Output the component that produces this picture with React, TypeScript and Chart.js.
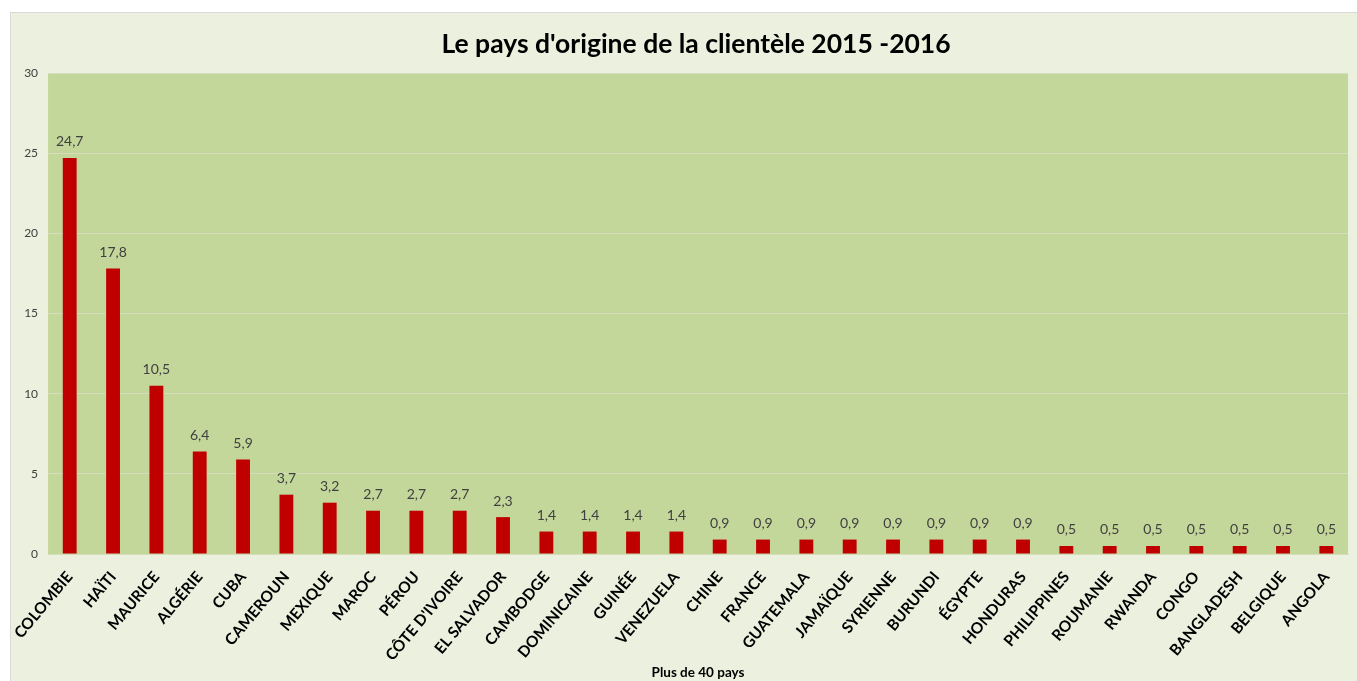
import React, { useEffect, useRef } from "react";
import { Chart, registerables } from "chart.js";

Chart.register(...registerables);

const titleText = "Le pays d'origine de la clientèle 2015 -2016";
const xAxisTitle = "Plus de 40 pays";

const countries = [
  "COLOMBIE", "HAÏTI", "MAURICE", "ALGÉRIE", "CUBA", "CAMEROUN", "MEXIQUE", "MAROC",
  "PÉROU", "CÔTE D'IVOIRE", "EL SALVADOR", "CAMBODGE", "DOMINICAINE", "GUINÉE",
  "VENEZUELA", "CHINE", "FRANCE", "GUATEMALA", "JAMAÏQUE", "SYRIENNE", "BURUNDI",
  "ÉGYPTE", "HONDURAS", "PHILIPPINES", "ROUMANIE", "RWANDA", "CONGO", "BANGLADESH",
  "BELGIQUE", "ANGOLA",
];

const shares = [
  24.7, 17.8, 10.5, 6.4, 5.9, 3.7, 3.2, 2.7,
  2.7, 2.7, 2.3, 1.4, 1.4, 1.4,
  1.4, 0.9, 0.9, 0.9, 0.9, 0.9, 0.9,
  0.9, 0.9, 0.5, 0.5, 0.5, 0.5, 0.5,
  0.5, 0.5,
];

const yMin = 0;
const yMax = 30;
const yStep = 5;

const FONT = "Lato, 'Open Sans', sans-serif";

const fmt = (v: number) => v.toFixed(1).replace(".", ",");

const valueLabels = {
  id: "valueLabels",
  afterDatasetsDraw(chart: any) {
    const ctx = chart.ctx;
    const meta = chart.getDatasetMeta(0);
    const data = chart.data.datasets[0].data as number[];
    ctx.save();
    ctx.font = `14px ${FONT}`;
    ctx.fillStyle = "#404040";
    ctx.textAlign = "center";
    ctx.textBaseline = "bottom";
    meta.data.forEach((bar: any, i: number) => {
      ctx.fillText(fmt(data[i]), bar.x, bar.y - 9);
    });
    ctx.restore();
  },
};

const chartTitle = {
  id: "chartTitle",
  afterDraw(chart: any) {
    const ctx = chart.ctx;
    const { chartArea } = chart;
    ctx.save();
    ctx.font = `bold 26.5px ${FONT}`;
    ctx.fillStyle = "#000000";
    ctx.textAlign = "center";
    ctx.textBaseline = "alphabetic";
    ctx.fillText(titleText, (chartArea.left + chartArea.right) / 2 - 2, 40);
    ctx.restore();
  },
};

export default function App() {
  const ref = useRef<HTMLCanvasElement | null>(null);

  useEffect(() => {
    if (!ref.current) return;
    const chart = new Chart(ref.current, {
      type: "bar",
      data: {
        labels: countries,
        datasets: [
          {
            data: shares,
            backgroundColor: "#C00000",
            borderWidth: 0,
            categoryPercentage: 1,
            barPercentage: 0.32,
          },
        ],
      },
      options: {
        responsive: false,
        animation: false,
        layout: { padding: { left: 0, right: 9, top: 60, bottom: 0 } },
        plugins: {
          legend: { display: false },
          tooltip: { enabled: false },
          title: { display: false },
        },
        scales: {
          x: {
            grid: { display: false },
            border: { display: true, color: "#D5DDBD" },
            ticks: {
              autoSkip: false,
              minRotation: 50,
              maxRotation: 50,
              padding: 6,
              color: "#000000",
              font: { family: FONT, size: 15.5, weight: "bold" },
            },
            title: {
              display: true,
              text: xAxisTitle,
              color: "#000000",
              font: { family: FONT, size: 13.5, weight: "bold" },
              padding: { top: 0, bottom: 0 },
            },
            afterFit(scale: any) {
              scale.height = 127;
            },
          },
          y: {
            min: yMin,
            max: yMax,
            border: { display: false },
            grid: { color: "#D5DDBD", drawTicks: false, lineWidth: 1 },
            ticks: {
              stepSize: yStep,
              padding: 10,
              color: "#404040",
              font: { family: FONT, size: 12 },
            },
            afterFit(scale: any) {
              scale.width = 36;
            },
          },
        },
      },
      plugins: [
        {
          id: "plotBg",
          beforeDraw(c: any) {
            const { ctx, chartArea } = c;
            ctx.save();
            ctx.fillStyle = "#C4D79B";
            ctx.fillRect(chartArea.left, chartArea.top, chartArea.right - chartArea.left, chartArea.bottom - chartArea.top);
            ctx.restore();
          },
        },
        valueLabels,
        chartTitle,
      ],
    });
    return () => chart.destroy();
  }, []);

  return (
    <div
      style={{
        position: "fixed",
        left: 10,
        top: 12,
        width: 1347,
        height: 669,
        boxSizing: "border-box",
        background: "#EBF0DF",
        border: "1px solid #D9D9D9",
        borderRight: "none",
        borderBottom: "none",
      }}
    >
      <canvas ref={ref} width={1346} height={668} style={{ display: "block" }} />
    </div>
  );
}
